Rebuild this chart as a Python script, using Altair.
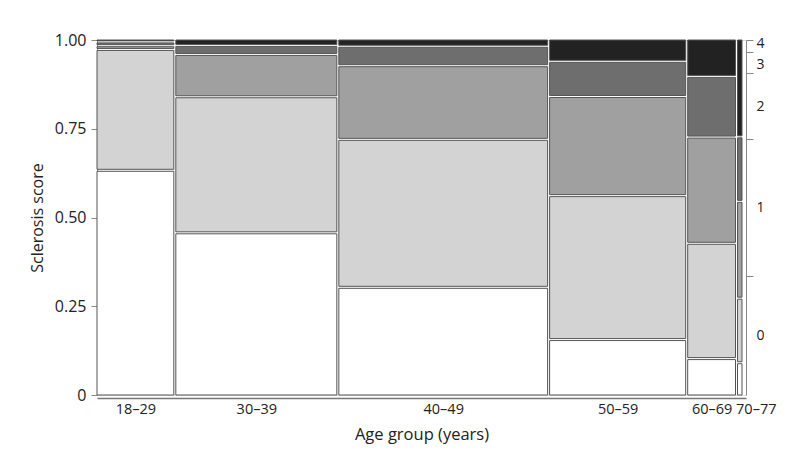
import altair as alt
import pandas as pd

# ---- data ----
age_groups = ["18–29", "30–39", "40–49", "50–59", "60–69", "70–77"]
scores = ["0", "1", "2", "3", "4"]
score0 = [119, 180, 155, 52, 12, 1]
score1 = [64, 151, 213, 135, 38, 2]
score2 = [2, 47, 106, 93, 35, 3]
score3 = [2, 10, 28, 33, 20, 2]
score4 = [1, 6, 9, 20, 12, 3]
fills = ["#ffffff", "#d3d3d3", "#a0a0a0", "#6e6e6e", "#222222"]

counts = [score0, score1, score2, score3, score4]
group_n = [sum(c[i] for c in counts) for i in range(len(age_groups))]
total = sum(group_n)

# ---- layout constants (pixels) ----
PLOT_W, PLOT_H = 649, 355
GAP_PX, PAD_PX, INSET_PX = 2, 4, 1
px_per = (PLOT_W - PAD_PX - GAP_PX * (len(age_groups) - 1)) / total
gap = GAP_PX / px_per
xmax = total + gap * (len(age_groups) - 1) + PAD_PX / px_per
dy = INSET_PX / PLOT_H

rows, centers, edges = [], [], []
cum = 0.0
for i, g in enumerate(age_groups):
    x0 = cum + i * gap
    x1 = x0 + group_n[i]
    centers.append((x0 + x1) / 2)
    edges.append(x1 + gap / 2)
    lo = 0.0
    for k, s in enumerate(scores):
        share = counts[k][i] / group_n[i]
        hi = lo + share
        rows.append({
            "age": g, "score": s, "n": counts[k][i],
            "x0": x0, "x1": x1,
            "y0": lo + (dy if k > 0 else 0.0),
            "y1": hi - (dy if k < len(scores) - 1 else 0.0),
        })
        lo = hi
    cum += group_n[i]
df = pd.DataFrame(rows)

# marginal distribution for the right axis
marg = [sum(counts[k]) / total for k in range(len(scores))]
bounds, mids = [], []
c = 0.0
for m in marg:
    mids.append(c + m / 2)
    c += m
    bounds.append(min(c, 1.0))
marg_df = pd.DataFrame({"b": bounds, "m": mids, "score": scores})

def ternary(vals, labels):
    expr = "'" + labels[-1] + "'"
    for v, l in reversed(list(zip(vals[:-1], labels[:-1]))):
        expr = f"datum.value < {v} ? '{l}' : " + expr
    return expr

x_label_expr = ternary(edges, age_groups)
y_right_expr = ternary(bounds, scores)

FONT = "Open Sans"
TXT = "#222222"
yscale = alt.Scale(domain=[0, 1], nice=False, zero=False)
xscale = alt.Scale(domain=[0, xmax], nice=False, zero=False)

rects = alt.Chart(df).mark_rect(stroke="#555555", strokeWidth=1).encode(
    x=alt.X("x0:Q", scale=xscale, axis=alt.Axis(
        values=centers, labelExpr=x_label_expr, ticks=False, grid=False,
        domainColor="#777777", domainWidth=1.5, offset=3, labelPadding=4,
        labelOverlap=False, labelFlush=False, labelFontSize=14.5, labelColor=TXT,
        labelOffset={"condition": {"test": f"datum.value > {edges[-2]}", "value": 16}, "value": 0},
        title="Age group (years)", titleFontSize=16.5, titleFontWeight="normal",
        titleColor=TXT, titlePadding=11)),
    x2="x1:Q",
    y=alt.Y("y0:Q", scale=yscale, axis=alt.Axis(
        orient="left", values=[0, 0.25, 0.5, 0.75, 1],
        labelExpr="datum.value == 0 ? '0' : format(datum.value, '.2f')",
        grid=False, tickSize=6, tickColor="#888888", domainColor="#888888",
        labelPadding=5, labelFontSize=16, labelColor=TXT, labelFlush=False,
        title="Sclerosis score", titleFontSize=16, titleFontWeight="normal",
        titleColor=TXT, titlePadding=9)),
    y2="y1:Q",
    fill=alt.Fill("score:N", scale=alt.Scale(domain=scores, range=fills), legend=None),
    tooltip=["age", "score", "n"],
)

right_ticks = alt.Chart(marg_df).mark_point(opacity=0).encode(
    y=alt.Y("b:Q", scale=yscale, axis=alt.Axis(
        orient="right", values=bounds, labels=False, tickSize=7,
        tickColor="#888888", domainColor="#888888", grid=False, title=None)),
)

right_labels = alt.Chart(marg_df).mark_point(opacity=0).encode(
    y=alt.Y("m:Q", scale=yscale, axis=alt.Axis(
        orient="right", values=mids, labelExpr=y_right_expr, ticks=False,
        domain=False, labelPadding=10, labelFontSize=14, labelColor=TXT,
        labelOffset={"condition": [
            {"test": f"datum.value > {bounds[-2]}", "value": -2},
            {"test": f"datum.value > {bounds[-3]}", "value": 1.5},
        ], "value": 0},
        grid=False, title=None, labelFlush=False, labelOverlap=False)),
)

chart = alt.layer(rects, right_ticks, right_labels).resolve_axis(
    y="independent"
).properties(
    width=PLOT_W, height=PLOT_H,
    autosize=alt.AutoSizeParams(type="none"),
    padding={"left": 89, "top": 32, "right": 46, "bottom": 73},
    background="white",
).configure_view(stroke=None).configure(font=FONT)

chart.save("out.html", embed_options={"renderer": "svg", "actions": False})
